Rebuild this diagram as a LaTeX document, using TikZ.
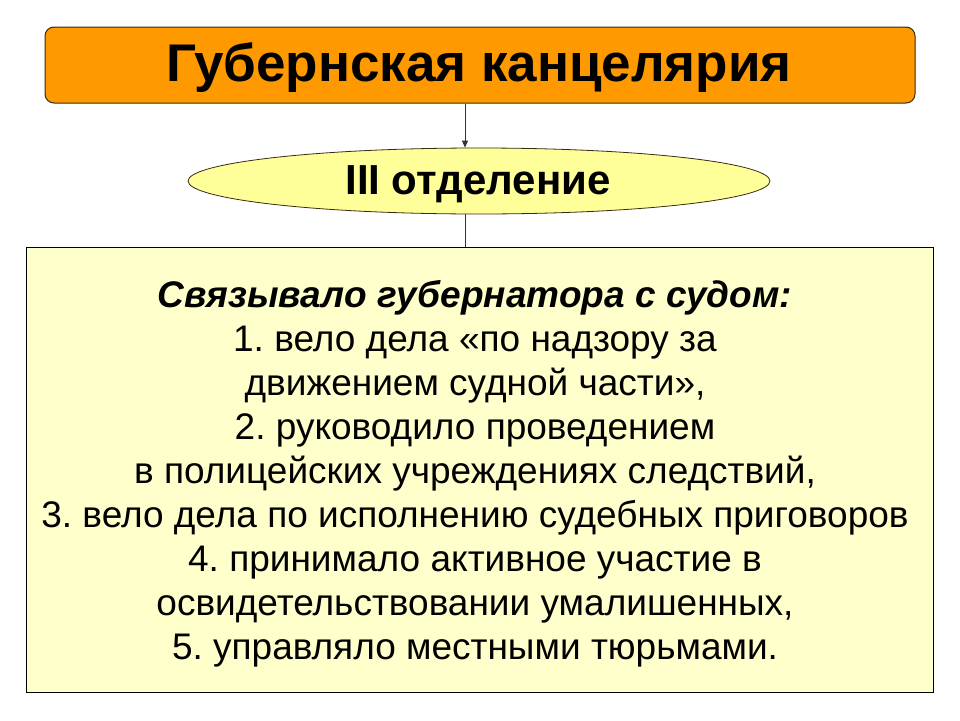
\documentclass[tikz,border=0pt]{standalone}
\usepackage{fontspec}
\setmainfont{Liberation Sans}
\usetikzlibrary{shapes.geometric,arrows.meta}
\definecolor{orangefill}{HTML}{FF9900}
\definecolor{ellfill}{HTML}{FFFF99}
\definecolor{boxfill}{HTML}{FFFFCC}
\definecolor{edgedark}{HTML}{3A2A10}
\frenchspacing
\begin{document}
\begin{tikzpicture}[x=1pt,y=-1pt,
  titlebox/.style={draw=edgedark,line width=1pt,fill=orangefill,rounded corners=9pt,minimum width=870pt,minimum height=76pt,inner sep=0pt,font=\fontsize{53}{60}\selectfont\bfseries},
  ellbox/.style={ellipse,draw=edgedark,line width=0.8pt,fill=ellfill,minimum width=582pt,minimum height=66pt,inner sep=0pt},
  elltext/.style={inner sep=0pt,font=\fontsize{42}{48}\selectfont\bfseries},
  bigbox/.style={draw=black,line width=1pt,fill=boxfill,minimum width=907pt,minimum height=445pt,inner sep=0pt},
  conn/.style={draw=black!80,line width=0.8pt},
  bodytext/.style={align=center,font=\fontsize{37}{44}\selectfont,inner sep=0pt}
]
\useasboundingbox (0,0) rectangle (960,720);
\fill[white] (0,0) rectangle (960,720);
\node[titlebox] (title) at (480,65) {};
\node[inner sep=0pt,font=\fontsize{53}{60}\selectfont\bfseries] (titletext) at (479,68) {Губернская канцелярия};
\node[ellbox] (dept) at (479,181) {};
\node[elltext] (depttext) at (478,184) {III отделение};
\node[bigbox] (main) at (479.5,469.5) {};
\draw[conn,-{Triangle[length=7pt,width=6pt]}] (title.south -| 465,0) -- (dept.north -| 465,0);
\draw[conn] (dept.south -| 465,0) -- (main.north -| 465,0);
\node[bodytext] (txt) at (475,474) {\textbf{\textit{Связывало губернатора с судом:}}\\
1. вело дела «по надзору за\\
движением судной части»,\\
2. руководило проведением\\
в полицейских учреждениях следствий,\\
3. вело дела по исполнению судебных приговоров\\
4. принимало активное участие в\\
освидетельствовании умалишенных,\\
5. управляло местными тюрьмами.};
\end{tikzpicture}
\end{document}
